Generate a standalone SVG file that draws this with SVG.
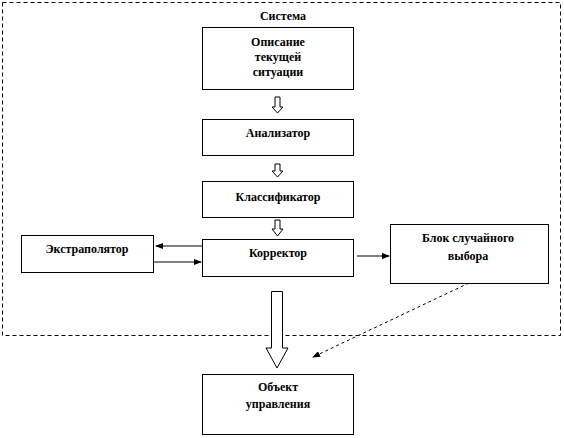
<svg xmlns="http://www.w3.org/2000/svg" width="564" height="438" viewBox="0 0 564 438">
<style>
.box{fill:#fff;stroke:#000;stroke-width:1}
.t{font-family:"Liberation Serif","Times New Roman",serif;font-weight:bold;font-size:12px;text-anchor:middle;fill:#000}
.ln{stroke:#000;stroke-width:1;fill:none}
.hol{fill:#fff;stroke:#000;stroke-width:1}
</style>
<defs>
<marker id="ah" markerWidth="8" markerHeight="6" refX="7" refY="3" orient="auto" markerUnits="userSpaceOnUse">
<path d="M0,0 L8,3 L0,6 Z" fill="#000"/>
</marker>
</defs>
<g id="system">
<rect x="2.5" y="2.5" width="558" height="333" fill="none" stroke="#000" stroke-dasharray="4,3"/>
<text class="t" x="283" y="20">Система</text>
</g>
<g id="connectors">
<path class="hol" d="M275,97 L280,97 L280,107 L283,107 L277.5,113 L272,107 L275,107 Z"/>
<path class="hol" d="M275,164 L280,164 L280,171 L283,171 L277.5,177 L272,171 L275,171 Z"/>
<path class="hol" d="M275,220 L280,220 L280,229 L283,229 L277.5,236 L272,229 L275,229 Z"/>
<path class="hol" d="M271.5,291.5 L282.5,291.5 L282.5,348 L288,348 L277,368 L266,348 L271.5,348 Z"/>
<line class="ln" x1="202" y1="246" x2="156" y2="246" marker-end="url(#ah)"/>
<line class="ln" x1="154" y1="262" x2="201" y2="262" marker-end="url(#ah)"/>
<line class="ln" x1="357" y1="256" x2="389" y2="256" marker-end="url(#ah)"/>
<line class="ln" x1="469" y1="283" x2="313" y2="357" stroke-dasharray="3,3" marker-end="url(#ah)"/>
</g>
<g id="opisanie">
<rect class="box" x="202.5" y="27.5" width="151" height="62"/>
<text class="t" x="278" y="46">Описание</text>
<text class="t" x="278" y="61">текущей</text>
<text class="t" x="278" y="76">ситуации</text>
</g>
<g id="analizator">
<rect class="box" x="202.5" y="119.5" width="151" height="36"/>
<text class="t" x="278" y="137">Анализатор</text>
</g>
<g id="klassifikator">
<rect class="box" x="202.5" y="181.5" width="151" height="36"/>
<text class="t" x="278" y="201">Классификатор</text>
</g>
<g id="korrektor">
<rect class="box" x="202.5" y="239.5" width="151" height="37"/>
<text class="t" x="278" y="257">Корректор</text>
</g>
<g id="ekstrapolyator">
<rect class="box" x="21.5" y="235.5" width="132" height="37"/>
<text class="t" x="87" y="253">Экстраполятор</text>
</g>
<g id="blok">
<rect class="box" x="390.5" y="224.5" width="158" height="59"/>
<text class="t" x="468" y="242">Блок случайного</text>
<text class="t" x="468" y="260">выбора</text>
</g>
<g id="obekt">
<rect class="box" x="202.5" y="374.5" width="151" height="60"/>
<text class="t" x="278" y="391">Объект</text>
<text class="t" x="278" y="408">управления</text>
</g>
</svg>
